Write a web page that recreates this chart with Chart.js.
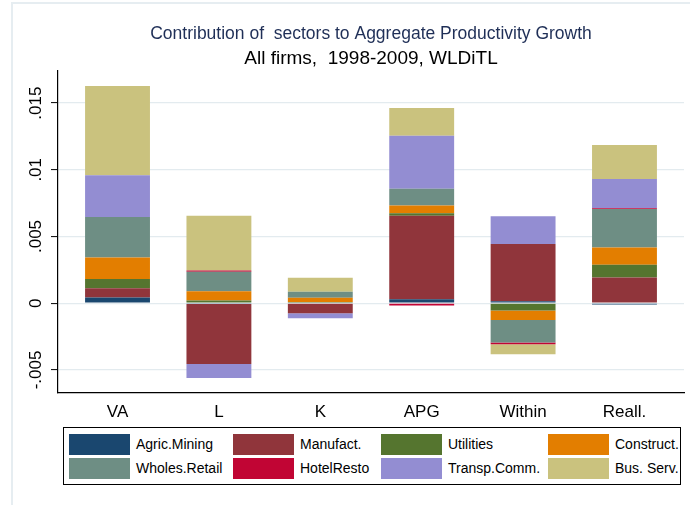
<!DOCTYPE html>
<html>
<head>
<meta charset="utf-8">
<script src="https://cdn.jsdelivr.net/npm/chart.js@4"></script>
<style>
  body { margin: 0; background: #fff; }
  #wrap { position: relative; width: 690px; height: 505px; }
  #legend {
    position: absolute; left: 63px; top: 427px; width: 616px; height: 56px;
    border: 1px solid #000; background: #fff;
    font-family: "Liberation Sans", Arial, sans-serif; font-size: 14px; color: #000;
  }
  .item { position: absolute; height: 21px; line-height: 21px; white-space: nowrap; }
  .swatch { position: absolute; left: 0; top: 0; width: 61px; height: 21px; }
  .label { position: absolute; left: 67px; top: 0; }
</style>
</head>
<body>
<div id="wrap">
  <canvas id="chart" width="690" height="505"></canvas>
  <div id="legend"></div>
</div>
<script>
// -------------- Data --------------
const categories = ["VA", "L", "K", "APG", "Within", "Reall."];
const sectorNames = ["Agric.Mining", "Manufact.", "Utilities", "Construct.",
    "Wholes.Retail", "HotelResto", "Transp.Comm.", "Bus. Serv."];

const agricMining  = [0.00042, -0.00005, 0,        0.0003,   0.00015, -0.0001];
const manufact     = [0.0007,  -0.0045,  -0.00075, 0.00625,  0.00428, 0.00193];
const utilities    = [0.0007,  0.0002,   0.0001,   0.0002,   -0.00055, 0.00095];
const construct    = [0.0016,  0.0007,   0.0003,   0.00058,  -0.0007, 0.0013];
const wholesRetail = [0.00305, 0.00145,  0.00045,  0.00125,  -0.0017, 0.00288];
const hotelResto   = [0,       0.0001,   0,        -0.00018, -0.00012, 0.00005];
const transpComm   = [0.00312, -0.00105, -0.000375, 0.00398, 0.00208, 0.0022];
const busServ      = [0.0067,  0.0041,   0.00105,  0.00208,  -0.00075, 0.00255];

const yTicks = [-0.005, 0, 0.005, 0.01, 0.015];
const yTickLabels = ["-.005", "0", ".005", ".01", ".015"];

const series = [agricMining, manufact, utilities, construct,
    wholesRetail, hotelResto, transpComm, busServ];
const colors = ['#1a476f', '#90353b', '#55752f', '#e37e00',
    '#6e8e84', '#c10534', '#938dd2', '#cac27e'];

const font = '"Liberation Sans", Arial, sans-serif';

// build datasets (linear x so the outer gaps match)
const datasets = series.map((vals, i) => ({
    label: sectorNames[i],
    data: vals.map((v, j) => ({ x: j, y: v })),
    backgroundColor: colors[i],
    borderWidth: 0,
    categoryPercentage: 1,
    barPercentage: 0.64
}));

// faint frame of the graph region
const frame = {
    id: 'frame',
    beforeDraw(chart) {
        const ctx = chart.ctx;
        ctx.save();
        ctx.strokeStyle = '#e6edf1';
        ctx.lineWidth = 2;
        ctx.beginPath();
        ctx.moveTo(12, 505);
        ctx.lineTo(12, 3);
        ctx.lineTo(690, 3);
        ctx.stroke();
        ctx.restore();
    }
};

new Chart(document.getElementById('chart'), {
    type: 'bar',
    data: { datasets: datasets },
    options: {
        responsive: false,
        animation: false,
        layout: { padding: { left: 0, right: 6, top: 0, bottom: 80 } },
        plugins: {
            legend: { display: false },
            tooltip: { enabled: false },
            title: {
                display: true,
                text: 'Contribution of  sectors to Aggregate Productivity Growth',
                color: '#1f2f57',
                fullSize: false,
                font: { family: font, size: 17.5, weight: 'normal' },
                padding: { top: 24, bottom: 2 }
            },
            subtitle: {
                display: true,
                text: 'All firms,  1998-2009, WLDiTL',
                color: '#000',
                fullSize: false,
                font: { family: font, size: 19, weight: 'normal' },
                padding: { top: 0, bottom: 1 }
            }
        },
        scales: {
            x: {
                type: 'linear',
                stacked: true,
                offset: false,
                min: -0.587,
                max: 5.587,
                grid: { display: false, drawTicks: false, offset: false },
                border: { display: true, color: '#000', width: 1.2 },
                ticks: {
                    stepSize: 1,
                    includeBounds: false,
                    padding: 9,
                    color: '#000',
                    font: { family: font, size: 17 },
                    callback: v => categories[v] ?? ''
                },
                afterFit: s => { s.height = 32; }
            },
            y: {
                stacked: true,
                min: -0.00673,
                max: 0.01742,
                grid: { color: '#e3ebef', lineWidth: 1.2, tickLength: 7, tickColor: '#000', tickWidth: 1 },
                border: { display: true, color: '#000', width: 1.2 },
                ticks: {
                    stepSize: 0.005,
                    includeBounds: false,
                    minRotation: 90,
                    maxRotation: 90,
                    crossAlign: 'center',
                    padding: -5,
                    color: '#000',
                    font: { family: font, size: 17 },
                    callback: v => {
                        const k = yTicks.findIndex(t => Math.abs(t - v) < 1e-9);
                        return k >= 0 ? yTickLabels[k] : '';
                    }
                },
                afterFit: s => { s.width = 58; }
            }
        }
    },
    plugins: [frame]
});

// -------------- Legend (4 columns, 2 rows) --------------
const legendEl = document.getElementById('legend');
const colX = [5, 169, 317, 484];
const rowY = [6, 30];
sectorNames.forEach((name, i) => {
    const item = document.createElement('div');
    item.className = 'item';
    item.style.left = colX[i % 4] + 'px';
    item.style.top = rowY[Math.floor(i / 4)] + 'px';
    item.innerHTML = '<span class="swatch" style="background:' + colors[i] + '"></span>' +
        '<span class="label">' + name + '</span>';
    legendEl.appendChild(item);
});
</script>
</body>
</html>
